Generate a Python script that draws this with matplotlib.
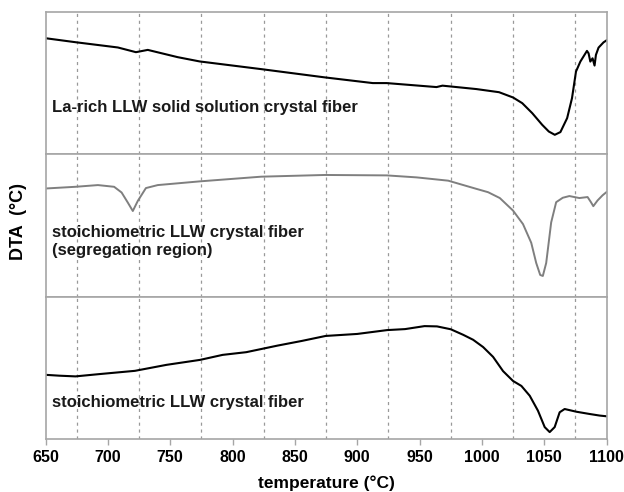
import numpy as np
import matplotlib.pyplot as plt

plt.rcParams['font.family'] = ['Liberation Sans', 'DejaVu Sans']

# DTA traces (arbitrary units)
t_top = [650, 674, 708, 722.5, 732, 756, 773.6, 823, 874, 912.5, 923.7, 963.6, 968.4,
         995.6, 1013.8, 1025, 1032.4, 1040.4, 1048.4, 1053.7, 1058.5, 1063, 1068.4,
         1072.3, 1075.5, 1079, 1084.3, 1085.6, 1087, 1088.8, 1090.4, 1091.5, 1093.6,
         1097.6, 1100]
dta_top = [81.6, 78.8, 75.1, 71.8, 73.4, 68.3, 65.3, 59.9, 54.1, 50.1, 50.1, 47.3, 48.3,
           45.9, 43.7, 40.0, 36.0, 29.0, 20.8, 16.1, 13.8, 15.7, 25.5,
           39.5, 58.2, 65.2, 72.7, 71.0, 65.2, 67.5, 62.4, 69.9, 75.0,
           78.7, 80.1]

t_mid = [650, 674, 692, 705, 711, 716, 720, 724, 730.5, 740, 773.6, 823, 874, 923.7,
         947.7, 973, 995, 1005, 1014.4, 1025, 1033, 1039.6, 1043.6, 1046.8, 1048.9,
         1051.6, 1055.6, 1059.6, 1064.9, 1070.2, 1078.2, 1084.8, 1087.5, 1089.4,
         1092.8, 1096.8, 1100]
dta_mid = [76.1, 77.3, 78.5, 77.3, 73.3, 66.2, 60.3, 67.4, 76.4, 78.5, 81.1, 84.4, 85.6, 85.3,
           83.9, 81.6, 76.0, 73.5, 69.4, 60.6, 51.1, 38.0, 23.8, 15.4, 14.7,
           23.8, 52.3, 66.5, 69.6, 70.8, 69.4, 70.1, 66.5, 63.7,
           67.7, 71.3, 73.6]

t_bot = [650, 661, 674, 693, 721.7, 747, 774, 792, 811, 836, 855.6, 874.7, 900, 924,
         938.4, 954, 964, 975, 985, 993, 1001, 1009, 1017, 1025, 1031.7, 1038.4, 1045,
         1050.4, 1054.4, 1058.4, 1062.4, 1066.4, 1075.8, 1086.5, 1094.5, 1100]
dta_bot = [45.3, 44.7, 44.2, 45.8, 48.1, 52.3, 55.8, 59.3, 61.2, 65.8, 69.1, 72.6, 74.0, 76.7,
           77.4, 79.5, 79.3, 77.3, 73.4, 69.9, 64.8, 57.9, 47.9, 41.0, 37.5, 30.6, 20.1,
           8.6, 5.1, 8.6, 19.0, 21.3, 19.4, 17.8, 16.7, 16.2]

labels = [['La-rich LLW solid solution crystal fiber'],
          ['stoichiometric LLW crystal fiber', '(segregation region)'],
          ['stoichiometric LLW crystal fiber']]
label_y = [[0.33], [0.452, 0.327], [0.259]]

major_ticks = np.arange(650, 1101, 50)
grid_pos = np.arange(675, 1100, 50)

fig = plt.figure(figsize=(6.24, 4.92), dpi=100)
gs = fig.add_gridspec(3, 1, left=0.073, right=0.972, bottom=0.107, top=0.9756,
                      hspace=0)
axes = [fig.add_subplot(gs[i]) for i in range(3)]

series = [(t_top, dta_top, 'black', 1.5),
          (t_mid, dta_mid, '#7f7f7f', 1.4),
          (t_bot, dta_bot, 'black', 1.5)]

for i, ax in enumerate(axes):
    t, d, col, lw = series[i]
    ax.plot(t, d, color=col, lw=lw, solid_joinstyle='round')
    ax.set_xlim(650, 1100)
    ax.set_ylim(0, 100)
    ax.set_yticks([])
    for g in grid_pos:
        ax.axvline(g, color='#999999', lw=0.9, ls=(0, (2.5, 3)), zorder=0)
    for s in ax.spines.values():
        s.set_color('#a6a6a6')
        s.set_linewidth(1.2)
    for txt, yy in zip(labels[i], label_y[i]):
        ax.text(0.012, yy, txt, transform=ax.transAxes, fontsize=12,
                fontweight='bold', va='center', ha='left', color='#1a1a1a')
    if i < 2:
        ax.set_xticks([])
    else:
        ax.set_xticks(major_ticks)
        ax.tick_params(axis='x', direction='out', length=4, color='#a6a6a6',
                       width=1.0, labelsize=11.5, pad=4)
        for lab in ax.get_xticklabels():
            lab.set_fontweight('bold')
        ax.set_xlabel('temperature (°C)', fontsize=12.5, fontweight='bold', labelpad=7)

fig.text(0.029, 1 - 222 / 492, 'DTA  (°C)', rotation=90, fontsize=13,
         fontweight='bold', ha='center', va='center')

fig.savefig('out.png', dpi=100)
